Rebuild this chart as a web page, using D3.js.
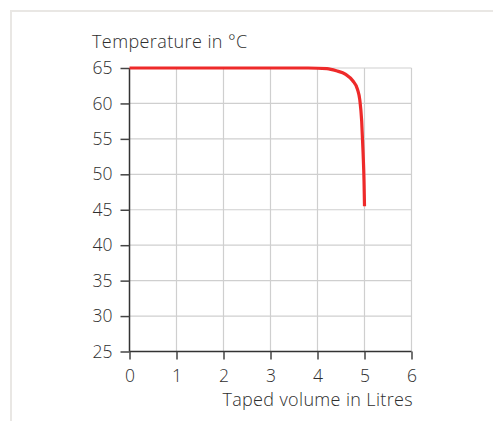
<!DOCTYPE html>
<html>
<head>
<meta charset="utf-8">
<script src="https://cdn.jsdelivr.net/npm/d3@7"></script>
<style>
  html, body { margin: 0; padding: 0; background: #fff; }
  svg { display: block; }
  text { font-family: "Open Sans", Lato, sans-serif; font-weight: 300; fill: #2e2e2e; }
</style>
</head>
<body>
<svg id="chart" width="493" height="421"></svg>
<script>
// Data
const volume = [0, 3.0, 3.8, 4.2, 4.4, 4.6, 4.75, 4.85, 4.9, 4.94, 4.97, 4.99, 5.0];
const temperature = [65, 65, 65, 64.9, 64.6, 64.1, 63.2, 62.0, 60.5, 57.5, 53, 49, 45.5];
const xTicks = [0, 1, 2, 3, 4, 5, 6];
const yTicks = [25, 30, 35, 40, 45, 50, 55, 60, 65];
const yTitle = "Temperature in °C";
const xTitle = "Taped volume in Litres";

const svg = d3.select("#chart");

// frame border (top and left)
svg.append("path")
  .attr("d", "M11,421 V11 H493")
  .attr("fill", "none")
  .attr("stroke", "#e9e7e4")
  .attr("stroke-width", 2);

const x = d3.scaleLinear().domain([0, 6]).range([129.5, 411.5]);
const y = d3.scaleLinear().domain([25, 65]).range([351.5, 68]);

// grid
const g = svg.append("g");
g.selectAll("line.vg").data(xTicks.slice(1)).join("line")
  .attr("x1", d => x(d)).attr("x2", d => x(d))
  .attr("y1", y(65)).attr("y2", y(25))
  .attr("stroke", "#cfcfcf").attr("stroke-width", 1.2);
g.selectAll("line.hg").data(yTicks.slice(1)).join("line")
  .attr("x1", x(0)).attr("x2", x(6))
  .attr("y1", d => y(d)).attr("y2", d => y(d))
  .attr("stroke", "#cfcfcf").attr("stroke-width", 1.2);

// axes
const xAxis = svg.append("g")
  .attr("transform", `translate(0,${y(25)})`)
  .call(d3.axisBottom(x).tickValues(xTicks).tickFormat(d3.format("d")).tickSize(8).tickPadding(10));
const yAxis = svg.append("g")
  .attr("transform", `translate(${x(0)},0)`)
  .call(d3.axisLeft(y).tickValues(yTicks).tickFormat(d3.format("d")).tickSize(9).tickPadding(8));
[xAxis, yAxis].forEach(a => {
  a.select(".domain").attr("stroke", "#333").attr("stroke-width", 1.5);
  a.selectAll(".tick line").attr("stroke", "#444").attr("stroke-width", 1.5);
  a.selectAll(".tick text")
    .attr("font-family", "'Open Sans', Lato, sans-serif")
    .attr("font-weight", 300)
    .attr("font-size", 17.5).attr("fill", "#2e2e2e");
});
xAxis.select(".domain").attr("d", `M${x(0)},0H${x(6)}`);
yAxis.select(".domain").attr("d", `M0,${y(65)}V${y(25)}`);

// line
const line = d3.line()
  .x((d, i) => x(volume[i]))
  .y(d => y(d))
  .curve(d3.curveMonotoneX);
svg.append("path")
  .datum(temperature)
  .attr("d", line)
  .attr("fill", "none")
  .attr("stroke", "#ee2a2a")
  .attr("stroke-width", 3.2)
  .attr("stroke-linecap", "butt");

// titles
svg.append("text").attr("x", 92).attr("y", 48).attr("font-size", 18)
  .attr("letter-spacing", 0.4).text(yTitle);
svg.append("text").attr("x", 413).attr("y", 406).attr("font-size", 18)
  .attr("letter-spacing", 0.35).attr("text-anchor", "end").text(xTitle);
</script>
</body>
</html>
